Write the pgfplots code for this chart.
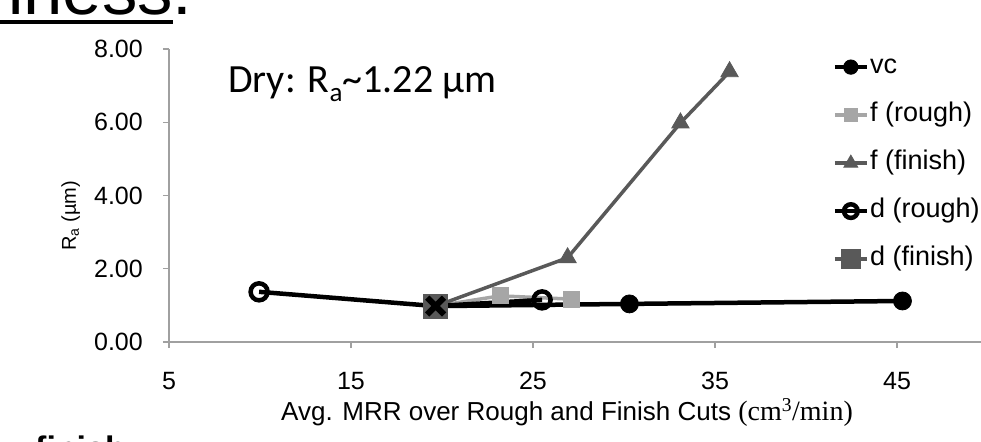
\documentclass[border=0pt]{standalone}
\usepackage{fontspec}
\setmainfont{Liberation Sans}
\newfontfamily\serifx{Liberation Serif}
\newfontfamily\califont{Carlito}
\usepackage{pgfplots}
\pgfplotsset{compat=1.18}
\definecolor{lgray}{HTML}{A6A6A6}
\definecolor{dgray}{HTML}{595959}
\definecolor{axgray}{HTML}{A0A0A0}
\begin{document}
\begin{tikzpicture}
\useasboundingbox (0,0) rectangle (981bp,442bp);
\node[anchor=base east, inner sep=0pt, font=\fontsize{70.8bp}{80bp}\selectfont] at (193bp,427bp) {Surface Roughness:};
\fill (0,418bp) rectangle (173bp,422bp);
\node[anchor=north west, inner sep=0pt, font=\fontsize{34bp}{40bp}\selectfont\bfseries] at (35bp,6bp) {finish};
\node[anchor=base west, inner sep=0pt, font=\califont\fontsize{40bp}{44bp}\selectfont] at (228bp,349bp) {Dry: R\raisebox{-9bp}{\fontsize{27bp}{27bp}\selectfont a}\textasciitilde1.22 µm};
\begin{axis}[
 at={(169bp,100bp)}, anchor=south west,
 scale only axis, width=819bp, height=293bp,
 xmin=5, xmax=50, ymin=0, ymax=8,
 clip=false,
 axis x line=bottom, axis y line=left,
 axis line style={draw=axgray, line width=1.3bp, -},
 xtick={5,15,25,35,45}, ytick={0,2,4,6,8},
 tick align=outside, major tick length=6bp,
 tick style={draw=axgray, line width=1.3bp},
 /pgf/number format/assume math mode=true,
 ticklabel style={font=\fontsize{25bp}{28bp}\selectfont},
 y tick label style={/pgf/number format/fixed, /pgf/number format/fixed zerofill, /pgf/number format/precision=2, anchor=east, inner sep=0pt, xshift=-20bp},
 x tick label style={anchor=north, inner sep=0pt, yshift=-24bp},
 xlabel={Avg. MRR over Rough and Finish Cuts {\serifx\fontsize{28bp}{30bp}\selectfont (cm\textsuperscript{3}/min)}},
 xlabel style={at={(axis description cs:0.486,0)}, anchor=base, yshift=-78bp, inner sep=0pt, font=\fontsize{26bp}{28bp}\selectfont},
 ylabel={R\textsubscript{a} (µm)},
 ylabel style={at={(axis description cs:-0.12,0.43)}, anchor=center, inner sep=0pt, font=\fontsize{20bp}{22bp}\selectfont},
 legend style={at={(axis description cs:0.81,0.985)}, anchor=north west, draw=none, fill=none, font=\fontsize{27bp}{30bp}\selectfont, row sep=21bp, inner sep=0pt, nodes={inner sep=1bp, text height=19bp, text depth=6bp}},
 legend cell align=left,
 legend image code/.code={\draw[#1, every mark/.append style={scale=0.8}, mark repeat=2, mark phase=2] plot coordinates {(0bp,0bp) (16bp,0bp) (32bp,0bp)};},
]
\addplot[black, line width=4.5bp, mark=*, mark size=9bp, mark options={line width=0.8bp}] coordinates {(19.65,0.98) (30.3,1.04) (45.3,1.12)};
\addlegendentry{vc}
\addplot[lgray, line width=3.5bp, mark=square*, mark size=8bp, mark options={line width=0.8bp}] coordinates {(19.65,0.98) (23.2,1.26) (27.1,1.17)};
\addlegendentry{f (rough)}
\addplot[dgray, line width=3.5bp, mark=triangle*, mark size=10bp, mark options={line width=0.8bp}] coordinates {(19.65,0.98) (26.9,2.30) (33.1,5.98) (35.8,7.38)};
\addlegendentry{f (finish)}
\addplot[black, line width=4.5bp, mark=o, mark size=8.5bp, mark options={line width=4.5bp}] coordinates {(9.95,1.37) (19.65,0.98) (25.5,1.15)};
\addlegendentry{d (rough)}
\addplot[dgray, line width=3.5bp, mark=square*, mark size=12bp, mark options={line width=0.8bp, rounded corners=3bp}] coordinates {(19.65,0.98)};
\addlegendentry{d (finish)}
\addplot[black, only marks, mark=x, mark size=12bp, mark options={line width=6bp}, forget plot] coordinates {(19.65,0.98)};
\end{axis}
\end{tikzpicture}
\end{document}
